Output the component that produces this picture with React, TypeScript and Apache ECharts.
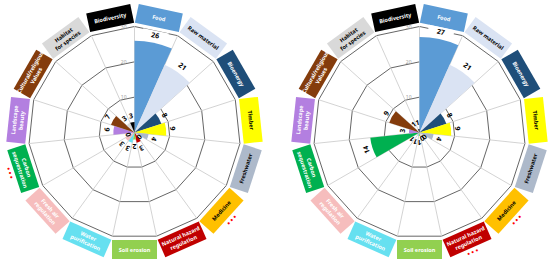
import React, { useEffect, useRef } from "react";
import * as echarts from "echarts";

const categories = [
  "Food", "Raw material", "Bioenergy", "Timber", "Freshwater", "Medicine",
  "Natural hazard regulation", "Soil erosion", "Water purification", "Fresh air regulation",
  "Carbon sequestration", "Landscape beauty", "Cultural/religious Values", "Habitat for species", "Biodiversity",
];
const boxLabels = [
  "Food", "Raw material", "Bioenergy", "Timber", "Freshwater", "Medicine",
  "Natural hazard\nregulation", "Soil erosion", "Water\npurification", "Fresh air\nregulation",
  "Carbon\nsequestration", "Landscape\nbeauty", "Cultural/religious\nValues", "Habitat\nfor species", "Biodiversity",
];
const colors = [
  "#5B9BD5", "#DAE3F3", "#1F4E79", "#FFFF00", "#ADB9CA", "#FFC000",
  "#C00000", "#92D050", "#66E0F0", "#F6BDBD", "#00B050", "#B37FE0",
  "#843C0C", "#D9D9D9", "#000000",
];
const textColors = [
  "#FFFFFF", "#000000", "#FFFFFF", "#000000", "#000000", "#000000",
  "#FFFFFF", "#FFFFFF", "#FFFFFF", "#FFFFFF", "#FFFFFF", "#FFFFFF",
  "#FFFFFF", "#000000", "#FFFFFF",
];
const leftValues = [26, 21, 8, 9, 4, 0, 3, 2, 3, 3, 0, 6, 7, 3, 3];
const rightValues = [27, 21, 8, 9, 4, 0, 0, 1, 1, 1, 14, 3, 9, 1, 1];
const leftStars = ["Medicine", "Carbon sequestration"];
const rightStars = ["Medicine", "Natural hazard regulation"];
const radiusMax = 30;
const radiusStep = 10;

const W = 550;
const H = 268;
const centers: [number, number][] = [[134.5, 132.5], [419.5, 132.5]];
const R = 106;
const BOX_R = 117;
const BOX_W = 45;
const BOX_H = 19;
const STAR_OFF = 14;
const FONT = '"Noto Sans", "Open Sans", sans-serif';

function boxGraphics(cx: number, cy: number, stars: string[]) {
  const step = 360 / categories.length;
  return categories.map((c, i) => {
    const a = (i + 0.5) * step;
    const rad = (a * Math.PI) / 180;
    const flip = a > 90 && a < 270;
    const rot = flip ? a - 180 : a;
    const x = cx + BOX_R * Math.sin(rad);
    const y = cy - BOX_R * Math.cos(rad);
    const children: any[] = [
      {
        type: "rect",
        shape: { x: -BOX_W / 2, y: -BOX_H / 2, width: BOX_W, height: BOX_H },
        style: { fill: colors[i] },
      },
      {
        type: "text",
        style: {
          text: boxLabels[i],
          x: 0,
          y: 0,
          align: "center",
          verticalAlign: "middle",
          textAlign: "center",
          textVerticalAlign: "middle",
          fill: textColors[i],
          fontSize: 5.5,
          fontWeight: "bold",
          fontFamily: FONT,
          lineHeight: 7,
        },
      },
    ];
    if (stars.includes(c)) {
      children.push({
        type: "text",
        style: {
          text: "• • •",
          x: 0,
          y: flip ? STAR_OFF : -STAR_OFF,
          align: "center",
          verticalAlign: "middle",
          textAlign: "center",
          textVerticalAlign: "middle",
          fill: "#FF0000",
          fontSize: 7,
          fontWeight: "bold",
          fontFamily: FONT,
        },
      });
    }
    return {
      type: "group",
      x,
      y,
      rotation: (-rot * Math.PI) / 180,
      z: 10,
      children,
    };
  });
}

export default function App() {
  const ref = useRef<HTMLDivElement>(null);
  useEffect(() => {
    if (!ref.current) return;
    const chart = echarts.init(ref.current, undefined, { renderer: "svg" });
    const valueSets = [leftValues, rightValues];
    const option: any = {
      animation: false,
      backgroundColor: "#FFFFFF",
      radar: centers.map((c) => ({
        center: c,
        radius: R,
        startAngle: 90,
        splitNumber: 3,
        shape: "polygon",
        indicator: categories.map(() => ({ name: "", min: 0, max: radiusMax })),
        axisName: { show: false },
        axisLine: { lineStyle: { color: "#C8C8C8", width: 0.8 } },
        splitLine: { lineStyle: { color: "#666666", width: 1 } },
        splitArea: { show: false },
        axisTick: { show: false },
        axisLabel: { show: false },
        z: 0,
      })),
      polar: centers.map((c) => ({ center: c, radius: R })),
      angleAxis: centers.map((_, k) => ({
        polarIndex: k,
        type: "category",
        data: categories,
        startAngle: 90,
        clockwise: true,
        axisLine: { show: false },
        axisTick: { show: false },
        axisLabel: { show: false },
        splitLine: { show: false },
      })),
      radiusAxis: centers.map((_, k) => ({
        polarIndex: k,
        type: "value",
        min: 0,
        max: radiusMax,
        interval: radiusStep,
        axisLine: { show: false },
        axisTick: { show: false },
        splitLine: { show: false },
        axisLabel: {
          color: "#A0A0A0",
          fontSize: 5,
          fontFamily: FONT,
          formatter: (v: number) => (v === 0 ? "" : String(v)),
        },
        z: 5,
      })),
      series: valueSets.map((vals, k) => ({
        type: "bar",
        coordinateSystem: "polar",
        polarIndex: k,
        barCategoryGap: "0%",
        z: 3,
        data: vals.map((v, i) => ({
          value: v,
          itemStyle: { color: colors[i] },
          label: v >= 15 ? { backgroundColor: "#FFFFFF", padding: [1, 9] } : undefined,
        })),
        label: {
          show: true,
          position: "end",
          rotate: "tangential",
          distance: 3,
          color: "#000000",
          fontSize: 7,
          fontWeight: "bold",
          fontFamily: FONT,
        },
      })),
      graphic: [
        ...boxGraphics(centers[0][0], centers[0][1], leftStars),
        ...boxGraphics(centers[1][0], centers[1][1], rightStars),
      ],
    };
    chart.setOption(option);
    return () => chart.dispose();
  }, []);
  return (
    <div
      ref={ref}
      style={{ position: "fixed", left: 0, top: 0, width: W, height: H, background: "#FFFFFF" }}
    />
  );
}
